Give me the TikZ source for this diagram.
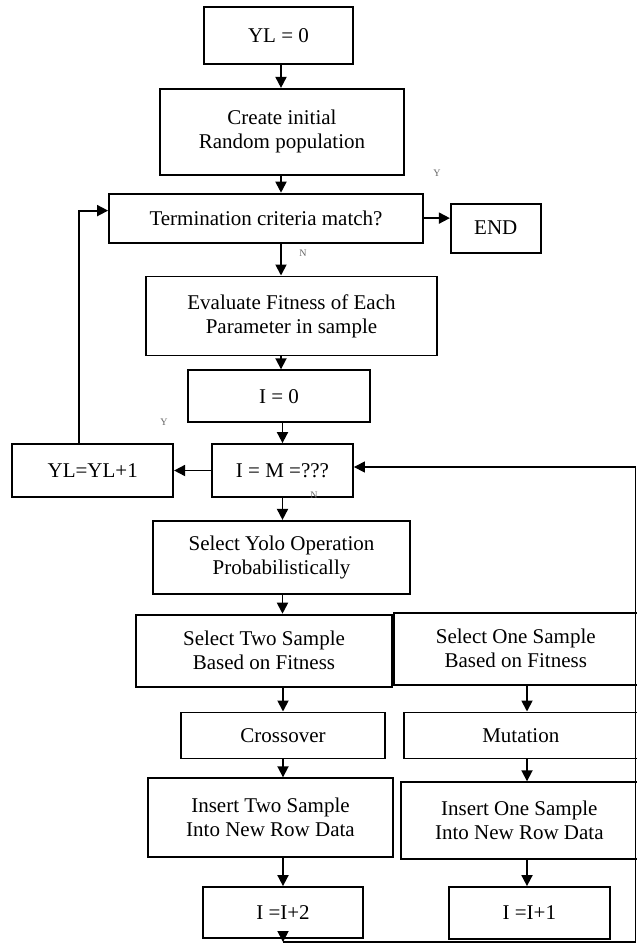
\documentclass[tikz,border=0pt]{standalone}
\usepackage{fontspec}
\setmainfont{Liberation Serif}
\usetikzlibrary{positioning,arrows.meta}

\begin{document}
\begin{tikzpicture}[
    x=0.5pt, y=-0.5pt,
    font=\fontsize{10.5}{12}\selectfont,
    block/.style={rectangle, draw, line width=0.9pt, align=center, inner sep=2pt},
    tag/.style={font=\fontsize{5}{6}\selectfont, text=black!60, inner sep=0pt},
    arrow/.style={-{Triangle[length=5.5pt, width=5.5pt]}, line width=0.9pt}
]
\useasboundingbox (0,0) rectangle (637,944);

% Start
\node [block, minimum width=74.5pt, minimum height=28.5pt] (yl_zero) at (278.5,35.5) {YL = 0};
\node [block, minimum width=122pt, minimum height=43pt, below=11.5pt of yl_zero, xshift=1.75pt] (create_pop) {Create initial\\Random population};

% Termination check
\node [block, minimum width=157pt, minimum height=24.5pt, below=8.5pt of create_pop, xshift=-8pt] (term_check) {Termination criteria match?};
\node [block, minimum width=45pt, minimum height=24.5pt, right=13pt of term_check, yshift=-5pt] (end_box) {END};

% Fitness and counter
\node [block, minimum width=145.5pt, minimum height=39.5pt, below=16pt of term_check, xshift=12.75pt] (eval_fit) {Evaluate Fitness of Each\\Parameter in sample};
\node [block, minimum width=91pt, minimum height=26pt, below=6.5pt of eval_fit, xshift=-6.25pt] (i_zero) {I = 0};
\node [block, minimum width=70.5pt, minimum height=26.5pt, below=10pt of i_zero, xshift=1.75pt] (i_check) {I = M =???};
\node [block, minimum width=80.5pt, minimum height=26.5pt, left=18.5pt of i_check] (yl_inc) {YL=YL+1};

% Operation choice
\node [block, minimum width=128.5pt, minimum height=36.5pt, below=11pt of i_check, xshift=-0.5pt] (yolo_op) {Select Yolo Operation\\Probabilistically};

% Crossover branch
\node [block, minimum width=128pt, minimum height=36pt, below=9.5pt of yolo_op, xshift=-8.75pt] (sel_two) {Select Two Sample\\Based on Fitness};
\node [block, minimum width=102pt, minimum height=23pt, below=12pt of sel_two, xshift=9.5pt] (cross) {Crossover};
\node [block, minimum width=122.5pt, minimum height=39.5pt, below=9pt of cross, xshift=-6.25pt] (ins_two) {Insert Two Sample\\Into New Row Data};
\node [block, minimum width=80pt, minimum height=25.5pt, below=14pt of ins_two, xshift=6.25pt] (inc_two) {I =I+2};

% Mutation branch
\node [block, minimum width=122pt, minimum height=36pt, right=0pt of sel_two, yshift=1pt] (sel_one) {Select One Sample\\Based on Fitness};
\node [block, minimum width=117pt, minimum height=23pt, below=13pt of sel_one, xshift=2.5pt] (mutate) {Mutation};
\node [block, minimum width=118.5pt, minimum height=38.5pt, below=11pt of mutate, xshift=-0.75pt] (ins_one) {Insert One Sample\\Into New Row Data};
\node [block, minimum width=80.5pt, minimum height=26pt, below=13pt of ins_one, xshift=5pt] (inc_one) {I =I+1};

% Y / N marks
\node [tag] (tag_y1) at (437,173) {Y};
\node [tag] (tag_n1) at (303,253) {N};
\node [tag] (tag_y2) at (164,422) {Y};
\node [tag] (tag_n2) at (314,495) {N};

\coordinate (col) at (281,0);
\coordinate (col_r) at (527,0);
\coordinate (ret_corner) at (635.5,942);

% Arrows
\draw [arrow] (yl_zero.south -| col) -- (create_pop.north -| col);
\draw [arrow] (create_pop.south -| col) -- (term_check.north -| col);
\draw [arrow] (term_check.east) -- (term_check.east -| end_box.west);
\draw [arrow] (term_check.south -| col) -- (eval_fit.north -| col);
\draw [arrow] (eval_fit.south -| col) -- (i_zero.north -| col);
\draw [arrow] (i_zero.south -| i_check.south) -- (i_check.north);
\draw [arrow] (i_check.west) -- (yl_inc.east);
\draw [arrow] (i_check.south) -- (i_check.south |- yolo_op.north);
\draw [arrow] (yolo_op.south -| i_check.south) -- (sel_two.north -| i_check.south);
\draw [arrow] (sel_two.south -| cross.north) -- (cross.north);
\draw [arrow] (cross.south) -- (cross.south |- ins_two.north);
\draw [arrow] (ins_two.south -| inc_two.north) -- (inc_two.north);
\draw [arrow] (sel_one.south -| col_r) -- (mutate.north -| col_r);
\draw [arrow] (mutate.south -| col_r) -- (ins_one.north -| col_r);
\draw [arrow] (ins_one.south -| col_r) -- (inc_one.north -| col_r);

% Loop back to termination check
\draw [arrow] ([xshift=-6.75pt]yl_inc.north) |- ([yshift=3.75pt]term_check.west);

% Return to counter check
\draw [arrow] (inc_two.south) -- (inc_two.south |- ret_corner);
\draw [arrow, line width=0.6pt] (inc_two.south |- ret_corner) -- (ret_corner) |- ([yshift=1.75pt]i_check.east);

\end{tikzpicture}
\end{document}
